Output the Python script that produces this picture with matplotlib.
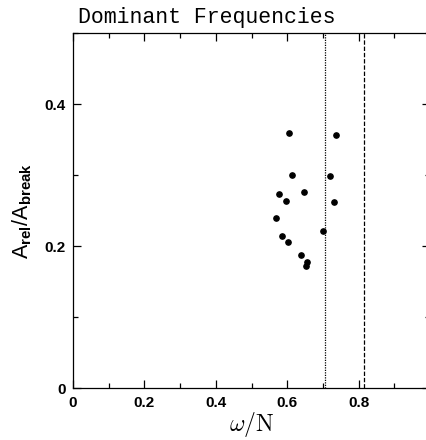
import matplotlib
matplotlib.use('Agg')
import matplotlib.pyplot as plt
import numpy as np
from matplotlib.ticker import MultipleLocator, FuncFormatter

# dominant frequencies
omega = [0.606, 0.736, 0.613, 0.720, 0.576, 0.646, 0.598, 0.732,
         0.570, 0.699, 0.585, 0.601, 0.638, 0.656, 0.652]
amp = [0.359, 0.356, 0.300, 0.298, 0.273, 0.276, 0.263, 0.262,
       0.239, 0.221, 0.214, 0.206, 0.188, 0.177, 0.172]
vlines_dotted = [1 / np.sqrt(2)]
vlines_dashed = [np.sqrt(2 / 3)]

plt.rcParams['mathtext.fontset'] = 'custom'
plt.rcParams['mathtext.rm'] = 'Liberation Sans'
plt.rcParams['mathtext.bf'] = 'Liberation Sans:bold'

fig = plt.figure(figsize=(4.27, 4.40), dpi=100)
ax = fig.add_axes([73 / 427, 52 / 440, 357 / 427, 355 / 440])

ax.plot(omega, amp, 'o', color='black', markersize=3.8)
for v in vlines_dotted:
    ax.axvline(v, color='black', lw=0.9, ls=(0, (1, 1)))
for v in vlines_dashed:
    ax.axvline(v, color='black', lw=0.9, ls=(0, (3.5, 1.5)))

ax.set_xlim(0, 1)
ax.set_ylim(0, 0.5)
ax.xaxis.set_major_locator(MultipleLocator(0.2))
ax.xaxis.set_minor_locator(MultipleLocator(0.1))
ax.yaxis.set_major_locator(MultipleLocator(0.2))
ax.yaxis.set_minor_locator(MultipleLocator(0.1))


def tick_fmt(v, p):
    if abs(v) < 1e-9:
        return '0'
    if v > 0.95:
        return ''
    return '%.1f' % v


fmt = FuncFormatter(tick_fmt)
ax.xaxis.set_major_formatter(fmt)
ax.yaxis.set_major_formatter(fmt)
ax.tick_params(which='both', direction='in', top=True, right=True, width=0.9)
ax.tick_params(which='major', length=6)
ax.tick_params(which='minor', length=3.5)
ax.tick_params(axis='x', which='major', pad=6)
ax.tick_params(axis='y', which='major', pad=5)
for lab in ax.get_xticklabels() + ax.get_yticklabels():
    lab.set_fontweight('bold')
    lab.set_fontsize(11)
    lab.set_family('Liberation Sans')
for s in ax.spines.values():
    s.set_linewidth(0.9)

ax.set_xlabel(r'$\omega/\mathrm{N}$', fontsize=17, math_fontfamily='cm', labelpad=0)
ax.set_ylabel(r'$\mathrm{A}_{\mathbf{rel}}/\mathrm{A}_{\mathbf{break}}$', fontsize=15.5,
              labelpad=8)
fig.text(78 / 427, 1 - 17 / 440, 'Dominant Frequencies', family='Liberation Mono',
         fontsize=15.5, ha='left', va='center')

plt.savefig('out.png', dpi=100)
